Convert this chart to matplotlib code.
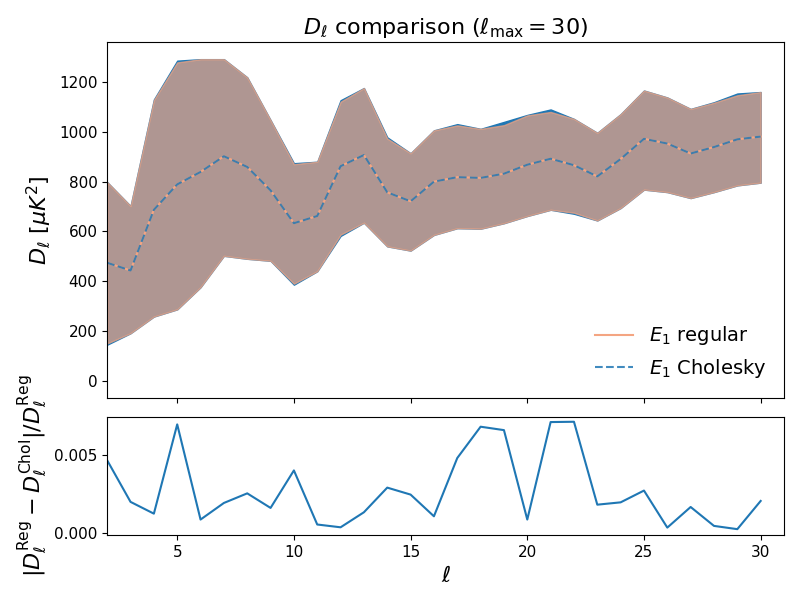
import matplotlib
matplotlib.use("Agg")
import matplotlib.pyplot as plt

# multipoles
ell = list(range(2, 31))

# mean D_ell (regular and Cholesky are practically identical)
dl_mean = [474, 443, 687, 789, 839, 902, 859, 765, 633, 662, 862, 907, 757, 721, 800,
           818, 815, 832, 868, 892, 866, 821, 891, 972, 953, 913, 939, 970, 981]

# band limits, regular
reg_upper = [798, 702, 1128, 1279, 1292, 1292, 1219, 1047, 870, 880, 1121, 1176, 973, 914, 1006,
             1026, 1012, 1027, 1066, 1080, 1052, 996, 1071, 1166, 1138, 1092, 1117, 1147, 1160]
reg_lower = [150, 191, 258, 287, 376, 502, 490, 482, 390, 440, 587, 635, 540, 523, 586,
             613, 611, 633, 662, 687, 675, 644, 694, 768, 758, 734, 758, 785, 796]

# band limits, Cholesky
chol_upper = [798, 702, 1130, 1286, 1292, 1292, 1219, 1047, 874, 880, 1127, 1176, 978, 914, 1006,
              1031, 1012, 1040, 1068, 1090, 1052, 996, 1071, 1166, 1138, 1092, 1119, 1154, 1160]
chol_lower = [145, 191, 258, 287, 376, 502, 490, 482, 386, 440, 582, 635, 540, 523, 586,
              613, 611, 633, 662, 687, 671, 644, 694, 768, 758, 734, 758, 785, 796]

# |D_reg - D_chol| / D_reg
rel_diff = [0.00468, 0.00200, 0.00124, 0.00700, 0.00086, 0.00193, 0.00255, 0.00161, 0.00403,
            0.00054, 0.00036, 0.00133, 0.00292, 0.00247, 0.00107, 0.00483, 0.00685, 0.00663,
            0.00086, 0.00715, 0.00717, 0.00182, 0.00197, 0.00273, 0.00034, 0.00167, 0.00045,
            0.00024, 0.00206]

salmon = "#f4a582"
blue = "#1f77b4"

fig, (ax1, ax2) = plt.subplots(2, 1, figsize=(8, 6), dpi=100, sharex=True,
                               gridspec_kw={"height_ratios": [3, 1]})
fig.subplots_adjust(left=0.134, right=0.98, top=0.93, bottom=0.108, hspace=0.08)

ax1.fill_between(ell, chol_lower, chol_upper, color=blue)
ax1.fill_between(ell, reg_lower, reg_upper, color=salmon, alpha=0.68)
ax1.plot(ell, dl_mean, color=salmon, lw=1.5, label=r"$E_1$ regular")
ax1.plot(ell, dl_mean, color=blue, lw=1.5, ls="--", alpha=0.85, label=r"$E_1$ Cholesky")

ax1.set_ylim(-68, 1361)
ax1.set_ylabel(r"$D_\ell\ [\mu K^2]$", fontsize=16)
ax1.set_title(r"$D_\ell$ comparison ($\ell_{\rm max} = 30$)", fontsize=16)
ax1.legend(loc="lower right", fontsize=14, frameon=False)
ax1.tick_params(labelsize=11)

ax2.plot(ell, rel_diff, color=blue, lw=1.5)
ax2.set_xlim(2, 31)
ax2.set_ylim(-0.00015, 0.0075)
ax2.set_yticks([0.0, 0.005])
ax2.set_yticklabels(["0.000", "0.005"])
ax2.set_xlabel(r"$\ell$", fontsize=16)
ax2.set_ylabel(r"$|D_\ell^{\rm Reg} - D_\ell^{\rm Chol}|/D_\ell^{\rm Reg}$", fontsize=16)
ax2.tick_params(labelsize=11)

fig.savefig("out.png", dpi=100)
